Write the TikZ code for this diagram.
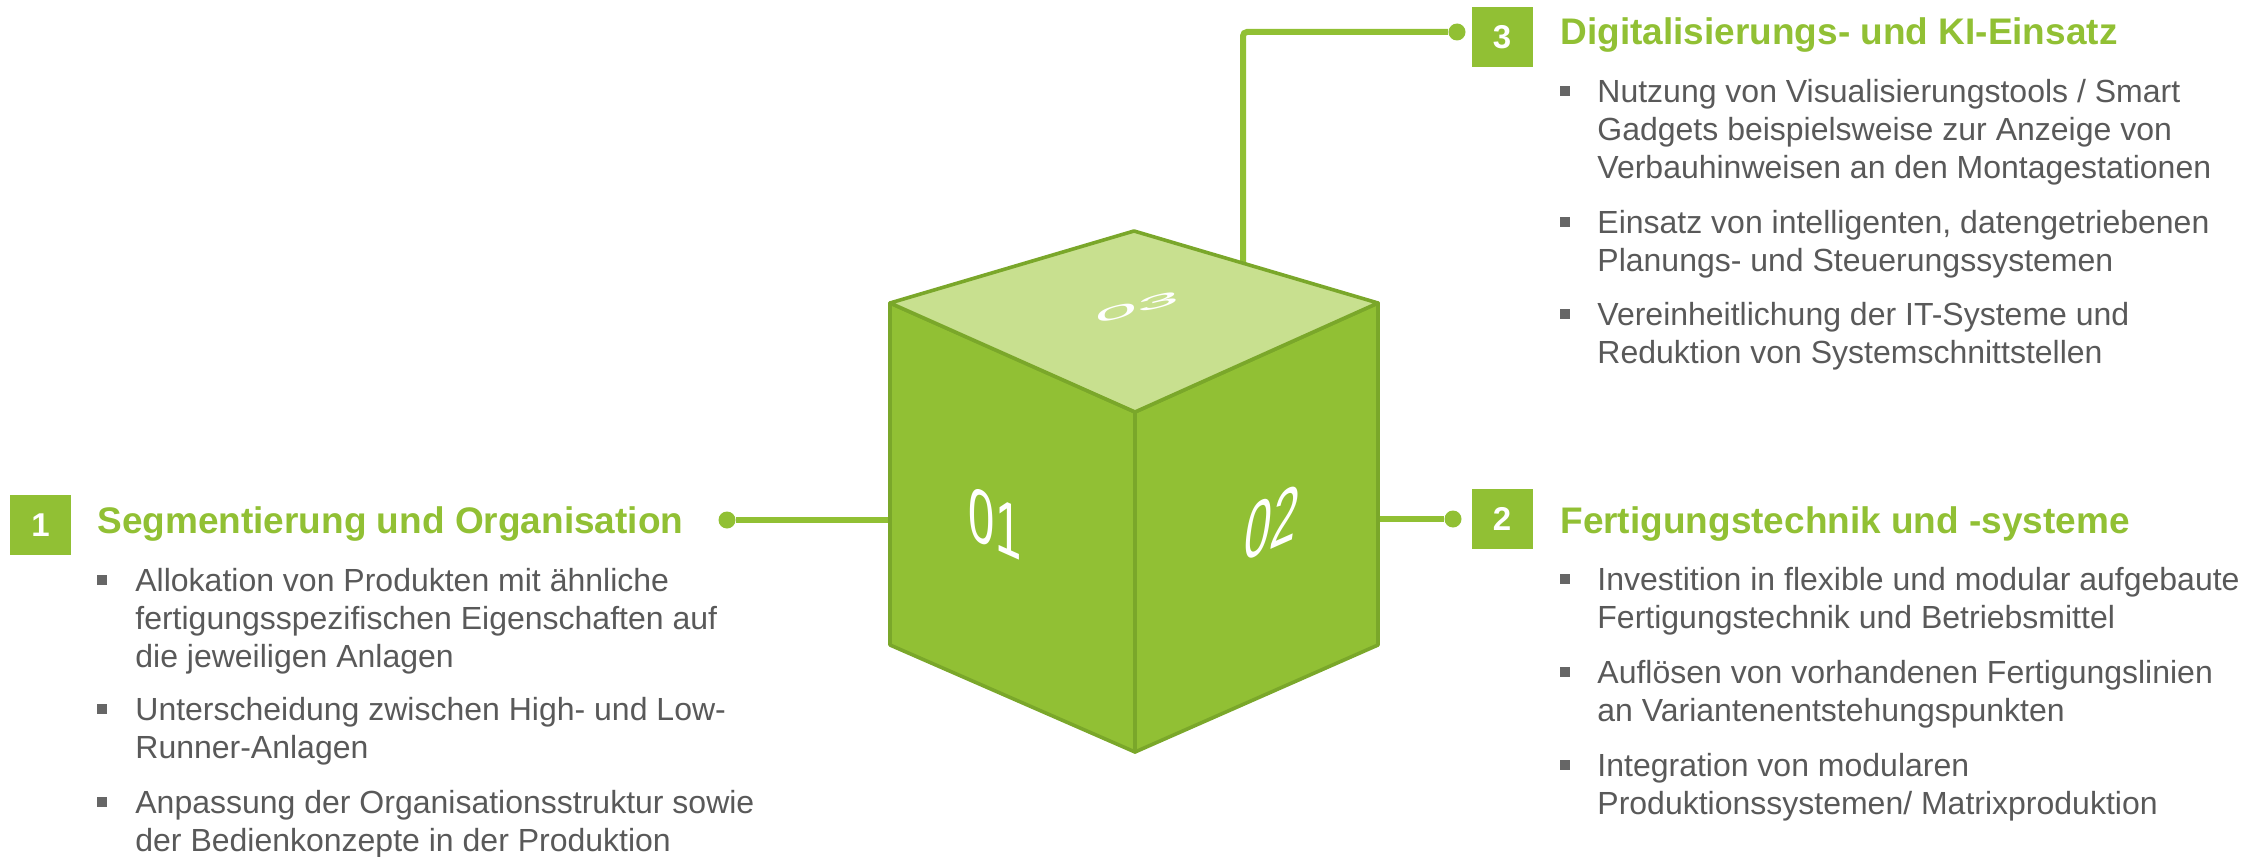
\documentclass[tikz,border=0pt]{standalone}
\usepackage{fontspec}
\setmainfont{Liberation Sans}
\newfontfamily\cubefont[FakeStretch=0.62]{Liberation Sans}
\usetikzlibrary{positioning}
\definecolor{kgreen}{RGB}{145,192,52}
\definecolor{klight}{RGB}{200,224,143}
\definecolor{kedge}{RGB}{122,167,42}
\definecolor{ktext}{RGB}{89,89,89}
\definecolor{kbullet}{RGB}{102,102,102}

\begin{document}
\begin{tikzpicture}[
      x=0.5pt,y=-0.5pt,
      face/.style={draw=kedge, line width=1.8pt, line join=round, fill=kgreen},
      link/.style={draw=kgreen, line width=3pt},
      dot/.style={circle, fill=kgreen, inner sep=0pt, minimum size=8.5pt},
      numbox/.style={fill=kgreen, text=white, font=\fontsize{16.5}{16.5}\selectfont\bfseries, minimum width=30.5pt, minimum height=30pt, inner sep=0pt},
      heading/.style={text=kgreen, font=\fontsize{18.5}{22}\selectfont\bfseries, anchor=base west, inner sep=0pt},
      item/.style={text=ktext, font=\fontsize{16}{19}\selectfont, anchor=north west, align=left, inner sep=0pt},
      sq/.style={fill=kbullet, minimum size=5pt, inner sep=0pt},
      cubenum/.style={text=white, font=\cubefont\fontsize{38}{38}\selectfont, inner sep=0pt}
    ]
      \useasboundingbox (0,0) rectangle (2262,856);
      % cube corners
      \coordinate (B) at (1134,231);
      \coordinate (L) at (890,303);
      \coordinate (F) at (1135,412);
      \coordinate (R) at (1378,303);
      \coordinate (LB) at (890,645);
      \coordinate (FB) at (1135,752);
      \coordinate (RB) at (1378,645);
      % connectors
      \node[dot] (d1) at (727,520) {};
      \coordinate (e1) at (890,520);
      \draw[link] (d1) -- (e1);
      \node[dot] (d2) at (1453,519) {};
      \coordinate (e2) at (1378,519);
      \draw[link] (e2) -- (d2);
      \node[dot] (d3) at (1457,32) {};
      \coordinate (e3) at (1243,265);
      \draw[link, rounded corners=2pt] (e3) |- (d3);
      % cube
      \draw[face] (L) -- (F) -- (FB) -- (LB) -- cycle;
      \draw[face] (F) -- (R) -- (RB) -- (FB) -- cycle;
      \draw[face, fill=klight] (L) -- (B) -- (R) -- (F) -- cycle;
      \node[cubenum, yslant=-0.445] (n1) at (995,523) {01};
      \node[cubenum, yslant=0.445, xslant=0.15] (n2) at (1272,523) {02};
      \node[cubenum, cm={1.6,0.4,0,0.25,(0,0)}] (n3) at (1137,307) {03};
      % 1
      \node[numbox] (b1) at (40.5,525) {1};
      \node[heading] (h1) at (97,533) {Segmentierung und Organisation};
      \node[sq] (s11) at (102,580) {};
      \node[item] (t11) at (135,564.4) {\strut Allokation von Produkten mit ähnliche\\fertigungsspezifischen Eigenschaften auf\\die jeweiligen Anlagen};
      \node[sq] (s12) at (102,709) {};
      \node[item] (t12) at (135,693.4) {\strut Unterscheidung zwischen High- und Low-\\Runner-Anlagen};
      \node[sq] (s13) at (102,802) {};
      \node[item] (t13) at (135,786.4) {\strut Anpassung der Organisationsstruktur sowie\\der Bedienkonzepte in der Produktion};
      % 2
      \node[numbox] (b2) at (1502,519) {2};
      \node[heading] (h2) at (1560,533) {Fertigungstechnik und -systeme};
      \node[sq] (s21) at (1565,579) {};
      \node[item] (t21) at (1597,563.4) {\strut Investition in flexible und modular aufgebaute\\Fertigungstechnik und Betriebsmittel};
      \node[sq] (s22) at (1565,672) {};
      \node[item] (t22) at (1597,656.4) {\strut Auflösen von vorhandenen Fertigungslinien\\an Variantenentstehungspunkten};
      \node[sq] (s23) at (1565,765) {};
      \node[item] (t23) at (1597,749.4) {\strut Integration von modularen\\Produktionssystemen/ Matrixproduktion};
      % 3
      \node[numbox] (b3) at (1502,37) {3};
      \node[heading] (h3) at (1560,45) {Digitalisierungs- und KI-Einsatz};
      \node[sq] (s31) at (1565,91) {};
      \node[item] (t31) at (1597,75.4) {\strut Nutzung von Visualisierungstools / Smart\\Gadgets beispielsweise zur Anzeige von\\Verbauhinweisen an den Montagestationen};
      \node[sq] (s32) at (1565,222) {};
      \node[item] (t32) at (1597,206.4) {\strut Einsatz von intelligenten, datengetriebenen\\Planungs- und Steuerungssystemen};
      \node[sq] (s33) at (1565,314) {};
      \node[item] (t33) at (1597,298.4) {\strut Vereinheitlichung der IT-Systeme und\\Reduktion von Systemschnittstellen};
    \end{tikzpicture}
\end{document}
